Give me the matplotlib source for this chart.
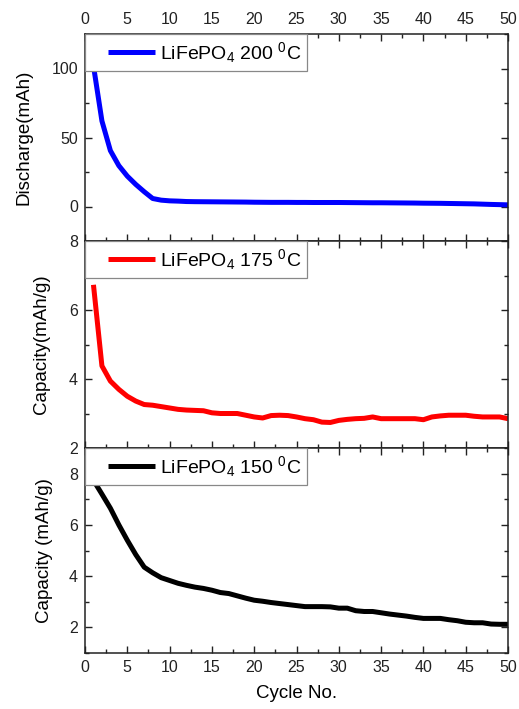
import matplotlib
matplotlib.use("Agg")
import matplotlib.pyplot as plt
from matplotlib.ticker import MultipleLocator
from matplotlib.legend_handler import HandlerLine2D
from matplotlib.lines import Line2D

plt.rcParams['font.family'] = ['Liberation Sans', 'DejaVu Sans']
plt.rcParams['mathtext.fontset'] = 'custom'
plt.rcParams['mathtext.rm'] = 'Liberation Sans'
plt.rcParams['mathtext.it'] = 'Liberation Sans:italic'

cycles = list(range(1, 51))

discharge_200 = [102, 62, 40.5, 29.6, 22, 16, 10.7, 5.8, 4.6, 4.1,
                 3.9, 3.6, 3.5, 3.45, 3.4, 3.35, 3.3, 3.25, 3.2, 3.1,
                 3.05, 3.0, 3.0, 3.0, 2.95, 2.95, 2.9, 2.9, 2.9, 2.9,
                 2.85, 2.8, 2.75, 2.7, 2.7, 2.65, 2.6, 2.55, 2.5, 2.4,
                 2.35, 2.3, 2.2, 2.1, 2.0, 1.9, 1.7, 1.5, 1.35, 1.2]

capacity_175 = [6.73, 4.38, 3.94, 3.7, 3.5, 3.36, 3.26, 3.24, 3.2, 3.16,
                3.12, 3.1, 3.09, 3.08, 3.02, 3.0, 3.0, 3.0, 2.95, 2.9,
                2.87, 2.94, 2.95, 2.94, 2.9, 2.85, 2.82, 2.75, 2.74, 2.8,
                2.83, 2.85, 2.86, 2.9, 2.85, 2.85, 2.85, 2.85, 2.85, 2.82,
                2.9, 2.93, 2.95, 2.95, 2.95, 2.92, 2.9, 2.9, 2.9, 2.85]

capacity_150 = [7.74, 7.2, 6.65, 6.0, 5.4, 4.84, 4.35, 4.13, 3.94, 3.83,
                3.72, 3.64, 3.57, 3.52, 3.45, 3.36, 3.32, 3.23, 3.14, 3.06,
                3.02, 2.97, 2.93, 2.89, 2.85, 2.81, 2.81, 2.81, 2.8, 2.75,
                2.75, 2.65, 2.62, 2.62, 2.57, 2.52, 2.48, 2.44, 2.39, 2.35,
                2.35, 2.35, 2.3, 2.26, 2.2, 2.18, 2.18, 2.13, 2.12, 2.12]

labels = [r'LiFePO$_4$ 200 $^0$C', r'LiFePO$_4$ 175 $^0$C', r'LiFePO$_4$ 150 $^0$C']
ylabels = ['Discharge(mAh)', 'Capacity(mAh/g)', 'Capacity (mAh/g)']
colors = ['#0000ff', '#ff0000', '#000000']
series = [discharge_200, capacity_175, capacity_150]
ylims = [(-25, 125), (2, 8), (1, 9)]
ymajor = [50, 2, 2]
yminor = [25, 1, 1]


class ShortLine(HandlerLine2D):
    def create_artists(self, legend, orig_handle, xdescent, ydescent,
                       width, height, fontsize, trans):
        arts = super().create_artists(legend, orig_handle, xdescent, ydescent,
                                      width, height, fontsize, trans)
        x0 = -xdescent
        line = arts[0]
        y = line.get_ydata()[0]
        line.set_data([x0 + 0.25 * width, x0 + 0.95 * width], [y, y])
        return arts


fig = plt.figure(figsize=(5.19, 7.09), dpi=100)
L, R = 85 / 519, 508 / 519
bounds = [(34, 241), (241, 448), (448, 653)]
label_x = [-0.125, -0.083, -0.076]

for i in range(3):
    t, b = bounds[i]
    ax = fig.add_axes([L, 1 - b / 709, R - L, (b - t) / 709])
    ax.plot(cycles, series[i], color=colors[i], lw=3.6, label=labels[i],
            solid_capstyle='butt')
    ax.set_xlim(0, 50)
    ax.set_ylim(*ylims[i])
    ax.xaxis.set_major_locator(MultipleLocator(5))
    ax.xaxis.set_minor_locator(MultipleLocator(2.5))
    ax.yaxis.set_major_locator(MultipleLocator(ymajor[i]))
    ax.yaxis.set_minor_locator(MultipleLocator(yminor[i]))
    ax.tick_params(which='both', direction='in', top=True, right=True,
                   labelsize=11.5, width=1, colors='#222222', pad=5)
    ax.tick_params(which='major', length=5)
    ax.tick_params(which='minor', length=3)
    if i == 0:
        ax.tick_params(labeltop=True, labelbottom=False)
    elif i == 1:
        ax.tick_params(labelbottom=False)
    else:
        ax.set_xlabel('Cycle No.', fontsize=13.5, labelpad=7)
    for s in ax.spines.values():
        s.set_linewidth(1.1)
        s.set_color('#222222')
    ax.set_ylabel(ylabels[i], fontsize=13.5)
    ax.yaxis.set_label_coords(label_x[i], 0.5)
    leg = ax.legend(loc='upper left', bbox_to_anchor=(0, 1), borderaxespad=0,
                    fancybox=False, edgecolor='#888888', fontsize=14,
                    handlelength=3.5, handletextpad=0.05, borderpad=0.3,
                    framealpha=1,
                    handler_map={Line2D: ShortLine()})
    leg.get_frame().set_linewidth(0.9)

fig.savefig('out.png', dpi=100)
